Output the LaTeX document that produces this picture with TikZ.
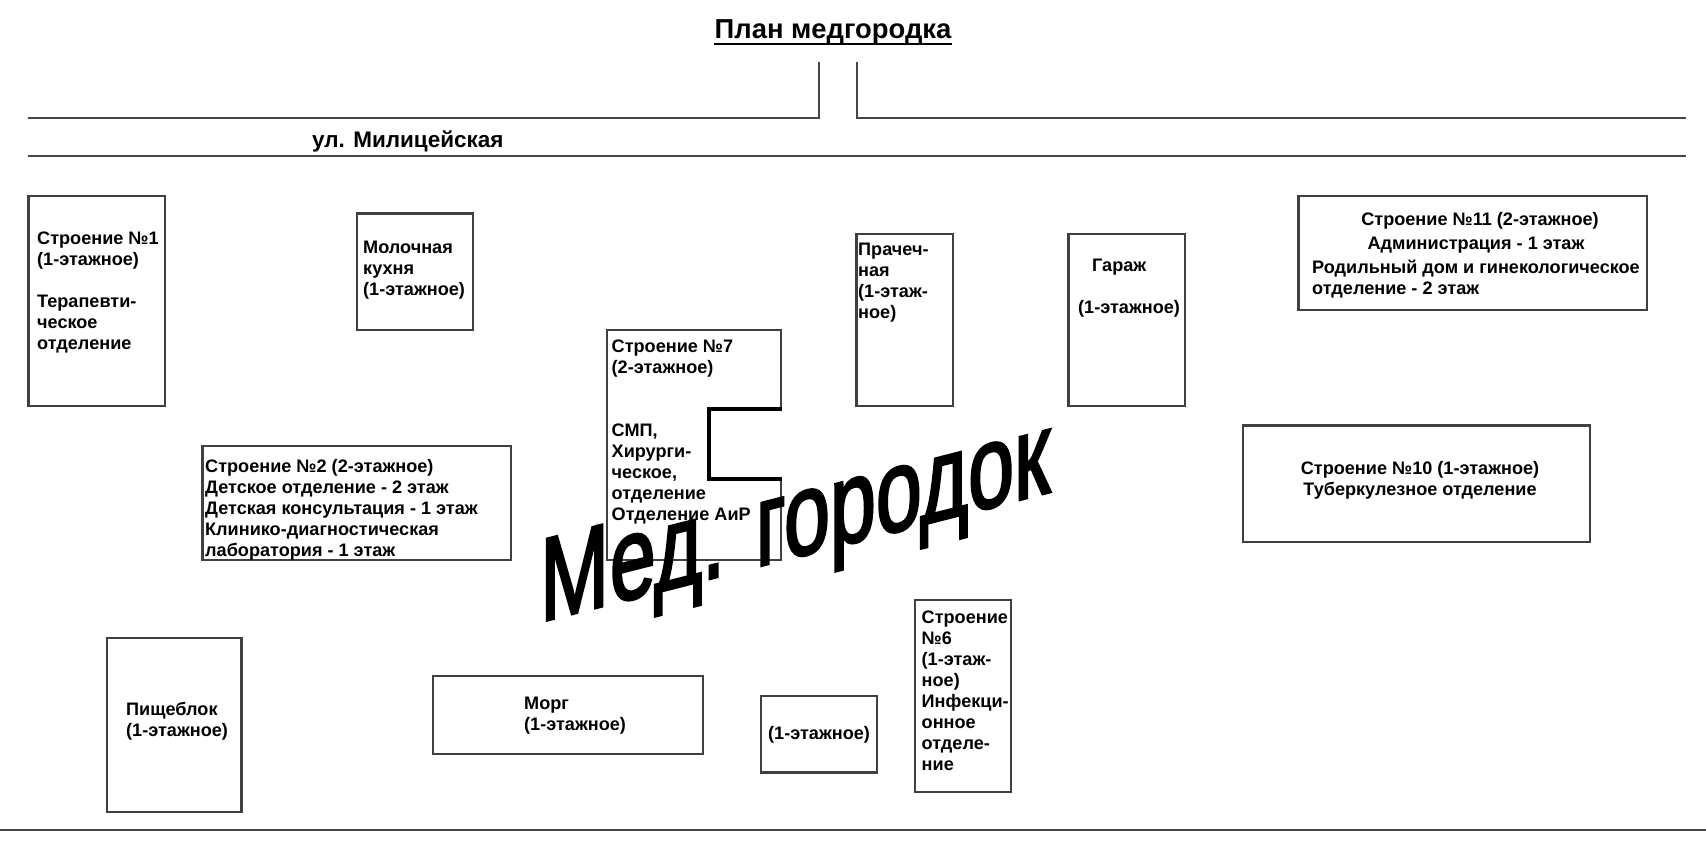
\documentclass[tikz,border=0pt]{standalone}
\usepackage{fontspec}
\setmainfont{Liberation Sans}
\newfontfamily\bigfont[FakeBold=2.6]{Liberation Sans}
\tikzset{
  x=1pt,y=-1pt,
  lbl/.style={anchor=north west,align=left,inner sep=0pt,text=black,font=\bfseries\fontsize{18.1}{21}\selectfont,execute at begin node=\strut},
  lblc/.style={lbl,anchor=north,align=center},
  bld/.style={draw=black!75,line width=2.2pt,line join=miter},
  road/.style={draw=black!72,line width=2.2pt},
  notch/.style={draw=black,line width=4.5pt,line join=miter},
}
\begin{document}
\begin{tikzpicture}
\useasboundingbox[fill=white] (0,0) rectangle (1706,843);
% title
\node[inner sep=0pt,anchor=base,font=\bfseries\fontsize{27.4}{30}\selectfont] (title) at (833,39) {План медгородка};
\draw[draw=black,line width=2.8pt] (title.west |- 0,44) -- (title.east |- 0,44);
% roads
\draw[road] (28,118) -- (819,118) -- (819,62);
\draw[road] (857,62) -- (857,118) -- (1686,118);
\draw[road] (28,156) -- (1686,156);
\draw[road] (0,830) -- (1706,830);
\node[lbl,font=\bfseries\fontsize{22.5}{26}\selectfont] (street) at (312,129) {ул. Милицейская};
% buildings
\draw[bld] (28.5,196) rectangle (165,406);
\draw[bld] (357,213.5) rectangle (473,330);
\draw[bld] (856.5,234) rectangle (953,406);
\draw[bld] (1068.5,234) rectangle (1185,406);
\draw[bld] (1298.5,196) rectangle (1647,310);
\draw[bld] (1243,425.5) rectangle (1590,542);
\draw[bld] (202.5,446) rectangle (511,560);
\draw[bld] (915,600) rectangle (1011,792);
\draw[bld] (107,638) rectangle (241.5,812);
\draw[bld] (433,676) rectangle (703,754);
\draw[bld] (761,696) rectangle (877,772.5);
% building 7 with its courtyard
\draw[bld] (781,409) -- (781,330) -- (607,330) -- (607,560) -- (781,560) -- (781,479);
\draw[notch] (782,409) -- (709,409) -- (709,479) -- (782,479);
% labels
\node[lbl] (b1) at (37,231.5) {Строение №1\\(1-этажное)\\[21pt]Терапевти-\\ческое\\отделение};
\node[lbl] (milk) at (363,241) {Молочная\\кухня\\(1-этажное)};
\node[lbl] (b7) at (611.5,340) {Строение №7\\(2-этажное)\\[42pt]СМП,\\Хирурги-\\ческое,\\отделение\\Отделение АиР};
\node[lbl] (b2) at (205,459) {Строение №2 (2-этажное)\\Детское отделение - 2 этаж\\Детская консультация - 1 этаж\\Клинико-диагностическая\\лаборатория - 1 этаж};
\node[lbl] (laundry) at (858,243) {Прачеч-\\ная\\(1-этаж-\\ное)};
\node[lbl] (gar1) at (1092,257) {Гараж};
\node[lbl] (gar2) at (1078,299) {(1-этажное)};
\node[lblc] (b11a) at (1480,211) {Строение №11 (2-этажное)};
\node[lblc] (b11b) at (1476,235) {Администрация - 1 этаж};
\node[lbl] (b11c) at (1312,259.5) {Родильный дом и гинекологическое\\отделение - 2 этаж};
\node[lblc] (b10) at (1420,461) {Строение №10 (1-этажное)\\Туберкулезное отделение};
\node[lbl] (b6) at (921.5,611) {Строение\\№6\\(1-этаж-\\ное)\\Инфекци-\\онное\\отделе-\\ние};
\node[lbl] (food) at (126,702) {Пищеблок\\(1-этажное)};
\node[lbl] (morgue) at (524,697) {Морг\\(1-этажное)};
\node[lbl] (one) at (768,725) {(1-этажное)};
% slanted inscription
\begin{scope}[shift={(540,622)},yslant=.255,xscale=.70]
\node[transform shape,anchor=base west,inner sep=0pt,font=\bigfont\fontsize{118}{130}\selectfont] (big) at (0,0) {Мед. городок};
\end{scope}
\end{tikzpicture}
\end{document}
